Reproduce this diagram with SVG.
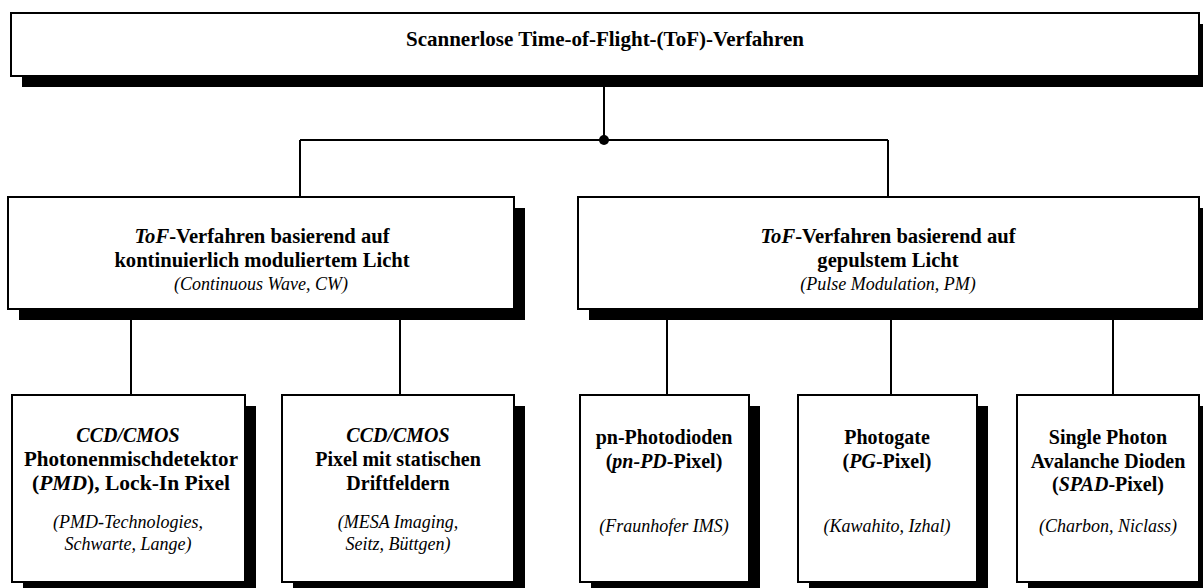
<svg xmlns="http://www.w3.org/2000/svg" width="1203" height="588" viewBox="0 0 1203 588">
<style>
.shadow{fill:#000}
.box{fill:#fff;stroke:#000;stroke-width:2}
text{font-family:"Liberation Serif","Times New Roman",serif;text-anchor:middle;fill:#000}
.b{font-weight:bold;font-size:20px}
.m{font-size:20.6px}
.t{font-size:21px}
.i{font-style:italic;font-weight:normal;font-size:18px}
.bi{font-style:italic;font-weight:bold}
.conn line{stroke:#000;stroke-width:2}
</style>
<rect width="1203" height="588" fill="#fff"/>
<g id="connectors" class="conn">
<line x1="604" y1="80" x2="604" y2="140"/>
<line x1="300" y1="140" x2="888" y2="140"/>
<line x1="300" y1="140" x2="300" y2="198"/>
<line x1="888" y1="140" x2="888" y2="198"/>
<circle cx="604" cy="140" r="5" fill="#000"/>
<line x1="131" y1="310" x2="131" y2="396"/>
<line x1="400" y1="310" x2="400" y2="396"/>
<line x1="667" y1="310" x2="667" y2="396"/>
<line x1="891" y1="310" x2="891" y2="396"/>
<line x1="1113" y1="310" x2="1113" y2="396"/>
</g>
<g id="root">
<rect class="shadow" x="22" y="24" width="1188" height="63"/>
<rect class="box" x="11" y="13" width="1188" height="63"/>
<text class="b t" x="605" y="46">Scannerlose Time-of-Flight-(ToF)-Verfahren</text>
</g>
<g id="cw">
<rect class="shadow" x="19" y="208" width="506" height="112"/>
<rect class="box" x="8" y="197" width="506" height="112"/>
<text class="b m" x="262" y="243"><tspan class="bi">ToF</tspan>-Verfahren basierend auf</text>
<text class="b m" x="262" y="267">kontinuierlich moduliertem Licht</text>
<text class="i" x="261" y="290">(Continuous Wave, CW)</text>
</g>
<g id="pm">
<rect class="shadow" x="589" y="208" width="621" height="112"/>
<rect class="box" x="578" y="197" width="621" height="112"/>
<text class="b m" x="888" y="243"><tspan class="bi">ToF</tspan>-Verfahren basierend auf</text>
<text class="b m" x="888" y="267">gepulstem Licht</text>
<text class="i" x="888" y="290">(Pulse Modulation, PM)</text>
</g>
<g id="pmd">
<rect class="shadow" x="23" y="406" width="233" height="187"/>
<rect class="box" x="12" y="395" width="233" height="187"/>
<text class="b bi" x="128" y="442">CCD/CMOS</text>
<text class="b" x="131" y="466" textLength="214" lengthAdjust="spacingAndGlyphs">Photonenmischdetektor</text>
<text class="b" x="131" y="490" textLength="198" lengthAdjust="spacingAndGlyphs">(<tspan class="bi">PMD</tspan>), Lock-In Pixel</text>
<text class="i" x="128" y="528">(PMD-Technologies,</text>
<text class="i" x="128" y="550">Schwarte, Lange)</text>
</g>
<g id="drift">
<rect class="shadow" x="293" y="406" width="232" height="187"/>
<rect class="box" x="282" y="395" width="232" height="187"/>
<text class="b bi" x="398" y="442">CCD/CMOS</text>
<text class="b" x="398" y="466">Pixel mit statischen</text>
<text class="b" x="398" y="490">Driftfeldern</text>
<text class="i" x="398" y="528">(MESA Imaging,</text>
<text class="i" x="398" y="550">Seitz, Büttgen)</text>
</g>
<g id="pnpd">
<rect class="shadow" x="591" y="406" width="169" height="187"/>
<rect class="box" x="580" y="395" width="169" height="187"/>
<text class="b" x="664" y="444">pn-Photodioden</text>
<text class="b" x="664" y="468">(<tspan class="bi">pn-PD</tspan>-Pixel)</text>
<text class="i" x="664" y="532">(Fraunhofer IMS)</text>
</g>
<g id="pg">
<rect class="shadow" x="809" y="406" width="179" height="187"/>
<rect class="box" x="798" y="395" width="179" height="187"/>
<text class="b" x="887" y="444">Photogate</text>
<text class="b" x="887" y="468">(<tspan class="bi">PG</tspan>-Pixel)</text>
<text class="i" x="887" y="532">(Kawahito, Izhal)</text>
</g>
<g id="spad">
<rect class="shadow" x="1028" y="406" width="182" height="187"/>
<rect class="box" x="1017" y="395" width="182" height="187"/>
<text class="b" x="1108" y="444">Single Photon</text>
<text class="b" x="1108" y="468">Avalanche Dioden</text>
<text class="b" x="1108" y="491">(<tspan class="bi">SPAD</tspan>-Pixel)</text>
<text class="i" x="1108" y="532">(Charbon, Niclass)</text>
</g>
</svg>
